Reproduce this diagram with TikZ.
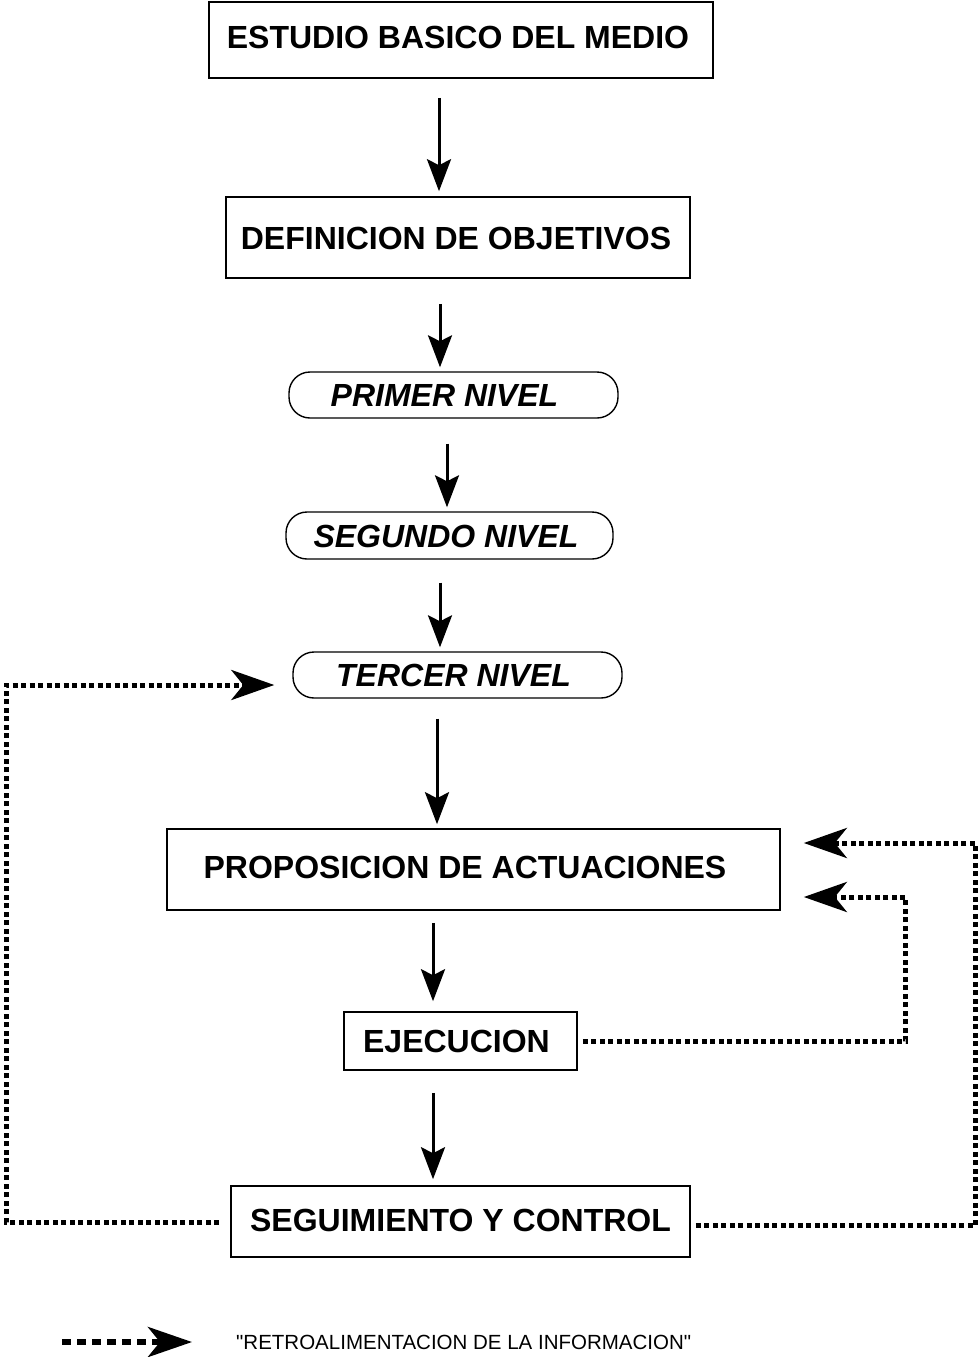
\documentclass[tikz,border=0pt]{standalone}
\usepackage{fontspec}
\setmainfont{Liberation Sans}
\newfontfamily\plainfont{Liberation Sans}
\usetikzlibrary{arrows.meta}
\begin{document}
\begin{tikzpicture}[x=1pt,y=-1pt,
  box/.style={draw,line width=1.6pt,inner sep=0pt,font=\fontsize{32}{36}\selectfont\bfseries,text height=23pt,text depth=0pt},
  lvl/.style={draw,line width=1.4pt,rounded corners=21pt,inner sep=0pt,font=\fontsize{32}{36}\selectfont\bfseries\itshape,text height=23pt,text depth=0pt},
  arr/.style={line width=3pt,-{Stealth[length=32pt,width=24pt,inset=6pt]}},
  fb/.style={line width=5pt,dash pattern=on 5pt off 3.5pt,-{Stealth[length=43pt,width=30pt,inset=12pt]}},
]
\useasboundingbox (0,0) rectangle (978,1357);

\node[box,minimum width=504pt,minimum height=76pt] (b1) at (461,40) {\raisebox{3pt}{ESTUDIO BASICO DEL MEDIO}\hspace{6pt}\null};
\node[box,minimum width=464pt,minimum height=81pt] (b2) at (458,237.5) {DEFINICION DE OBJETIVOS\hspace{4pt}\null};
\node[lvl,minimum width=329pt,minimum height=46pt] (b3) at (453.5,395) {PRIMER NIVEL\hspace{18pt}\null};
\node[lvl,minimum width=327pt,minimum height=47pt] (b4) at (449.5,535.5) {SEGUNDO NIVEL\hspace{7pt}\null};
\node[lvl,minimum width=329pt,minimum height=46pt] (b5) at (457.5,675) {TERCER NIVEL\hspace{8pt}\null};
\node[box,minimum width=613pt,minimum height=81pt] (b6) at (473.5,869.5) {\raisebox{3pt}{PROPOSICION DE ACTUACIONES}\hspace{17pt}\null};
\node[box,minimum width=233pt,minimum height=58pt] (b7) at (460.5,1041) {EJECUCION\hspace{8pt}\null};
\node[box,minimum width=459pt,minimum height=71pt] (b8) at (460.5,1221.5) {\raisebox{2pt}{SEGUIMIENTO Y CONTROL}};

% main flow
\draw[arr] ([shift={(-22,19)}]b1.south) -- ([shift={(-19,-5)}]b2.north);
\draw[arr] ([shift={(-18,25)}]b2.south) -- ([shift={(-13.5,-4)}]b3.north);
\draw[arr] ([shift={(-6.5,25)}]b3.south) -- ([shift={(-2.5,-4)}]b4.north);
\draw[arr] ([shift={(-9.5,23)}]b4.south) -- ([shift={(-17.5,-4)}]b5.north);
\draw[arr] ([shift={(-20.5,20)}]b5.south) -- ([shift={(-36.5,-4)}]b6.north);
\draw[arr] ([shift={(-40.5,12)}]b6.south) -- ([shift={(-27.5,-10)}]b7.north);
\draw[arr] ([shift={(-27.5,22)}]b7.south) -- ([shift={(-27.5,-6)}]b8.north);

% feedback
\draw[fb] ([shift={(-11,0.5)}]b8.west) -- ++(-213,0) |- ([shift={(-18,10)}]b5.west);
\draw[fb] ([shift={(5,3.5)}]b8.east) -- ++(280,0) |- ([shift={(23,-26.5)}]b6.east);
\draw[fb] ([shift={(5,0)}]b7.east) -- ++(323,0) |- ([shift={(23,27.5)}]b6.east);

% legend
\coordinate (l1) at (62,1342);
\node[font=\plainfont\fontsize{20.5}{24}\selectfont,anchor=west,inner sep=0pt] (lt) at (236,1342) {"RETROALIMENTACION DE LA INFORMACION"};
\draw[line width=6pt,dash pattern=on 9pt off 6pt,-{Stealth[length=44pt,width=30pt,inset=12pt]}] (l1) -- ([xshift=-44pt]lt.west);
\end{tikzpicture}
\end{document}
